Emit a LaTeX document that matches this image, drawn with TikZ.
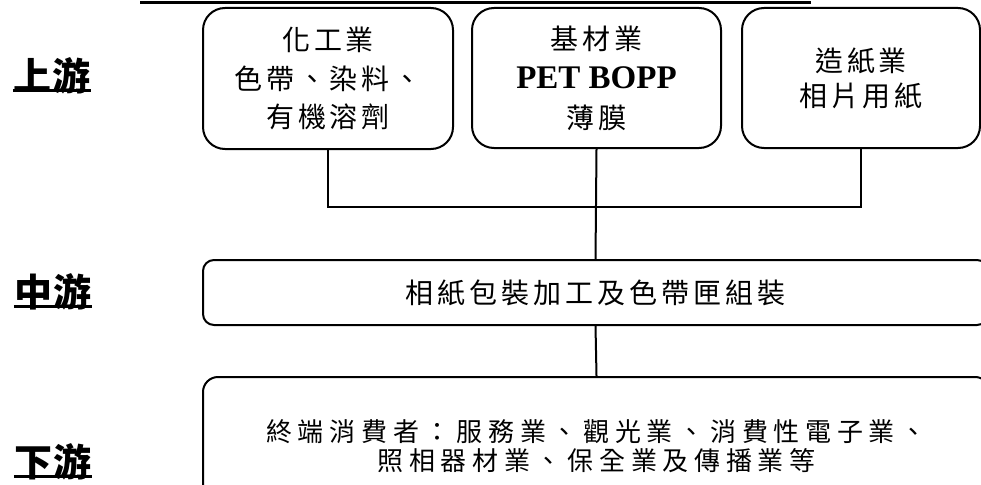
\documentclass[tikz,border=0pt]{standalone}
\usepackage{fontspec}
\newfontfamily\cjk{Noto Sans CJK TC}[LetterSpace=14]
\newfontfamily\cjkwide{Noto Sans CJK TC}[LetterSpace=22]
\newfontfamily\cjklab{Noto Sans CJK TC}[LetterSpace=5]
\newfontfamily\tms{Liberation Serif}
\begin{document}
\begin{tikzpicture}[x=1pt,y=-1pt,
  box/.style={draw=black,line width=2pt,align=center,inner sep=0pt},
  conn/.style={draw=black,line width=2pt},
  lab/.style={inner sep=0pt,font=\cjklab\bfseries\fontsize{38}{38}\selectfont},
  ul/.style={draw=black,line width=3pt}]
\useasboundingbox (0,0) rectangle (981,484);
\clip (0,0) rectangle (981,484);
\fill[white] (0,0) rectangle (981,484);
% clipped title underline
\coordinate (t1) at (140,2.5);
\coordinate (t2) at (811,2.5);
\draw[ul] (t1) -- (t2);
% upstream boxes
\node[box,rounded corners=22pt,minimum width=250pt,minimum height=141pt,
  font=\cjk\fontsize{28}{38.5}\selectfont] (b1) at (328,78.5)
  {化工業\\色帶、染料、\\有機溶劑};
\node[box,rounded corners=22pt,minimum width=249pt,minimum height=140pt,
  font=\cjk\fontsize{28}{39.5}\selectfont] (b2) at (596.5,78)
  {基材業\\{\tms\bfseries\fontsize{33}{39.5}\selectfont PET BOPP}\\薄膜};
\node[box,rounded corners=22pt,minimum width=238pt,minimum height=140pt,
  font=\cjk\fontsize{28}{35}\selectfont] (b3) at (861,78)
  {造紙業\\相片用紙};
% midstream
\node[box,rounded corners=11pt,minimum width=785pt,minimum height=65pt,
  font=\cjk\fontsize{28}{30}\selectfont] (mid) at (595.5,292.5)
  {\raisebox{-8pt}{相紙包裝加工及色帶匣組裝}};
% downstream
\node[box,rounded corners=15pt,minimum width=787pt,minimum height=138pt,
  font=\cjkwide\fontsize{26}{29}\selectfont] (bot) at (596.5,446)
  {終端消費者：服務業、觀光業、消費性電子業、\\照相器材業、保全業及傳播業等};
% connectors
\coordinate (j) at (598,207);
\draw[conn] (b1.south) |- (j) -| (b3.south);
\draw[conn] (b2.south) -- (mid.north);
\draw[conn] (mid.south) -- (bot.north);
% stage labels
\node[lab] (up) at (52,76) {上游};
\node[lab] (md) at (53,292) {中游};
\node[lab] (dn) at (53,462) {下游};
\draw[ul] ([yshift=4pt]up.south west) -- ([yshift=4pt]up.south east);
\draw[ul] ([yshift=4pt]md.south west) -- ([yshift=4pt]md.south east);
\draw[ul] ([yshift=4pt]dn.south west) -- ([yshift=4pt]dn.south east);
\end{tikzpicture}
\end{document}
